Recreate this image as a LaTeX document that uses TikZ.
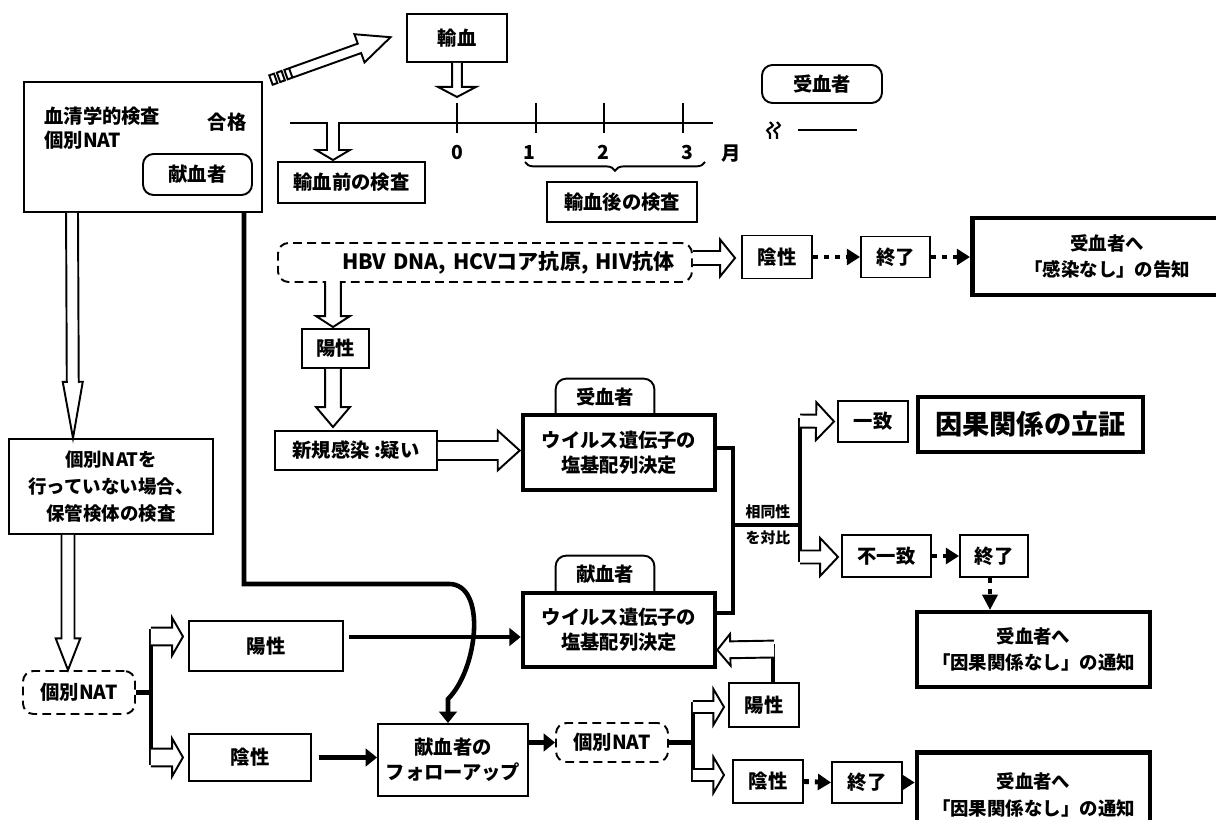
\documentclass[tikz,border=0pt]{standalone}
\usepackage{fontspec}
\setmainfont{Noto Sans CJK JP}
\usepackage{tikz}
\usetikzlibrary{
    positioning,
    arrows.meta,
    calc,
    decorations.pathreplacing,
    decorations.pathmorphing
}

% block arrow: tail, tip, half shaft, half head, head length
\newcommand{\hollowarrow}[5]{%
    \path (#1) coordinate (ha-t) (#2) coordinate (ha-p);
    \path ($(ha-p)!#5!(ha-t)$) coordinate (ha-b);
    \filldraw[hollow] ($(ha-t)!#3!90:(ha-p)$) -- ($(ha-b)!#3!90:(ha-p)$)
        -- ($(ha-b)!#4!90:(ha-p)$) -- (ha-p) -- ($(ha-b)!#4!-90:(ha-p)$)
        -- ($(ha-b)!#3!-90:(ha-p)$) -- ($(ha-t)!#3!-90:(ha-p)$);
}

\tikzset{
    box/.style={draw, line width=1.1pt, inner sep=0pt, align=center, fill=white,
        font=\fontsize{11}{14}\selectfont\bfseries},
    wh/.style 2 args={minimum width=#1*0.02cm, minimum height=#2*0.02cm},
    heavybox/.style={box, line width=2.6pt},
    dashbox/.style={box, dash pattern=on 5pt off 3pt, rounded corners=6pt},
    tagbox/.style={box, rounded corners=6pt},
    plain/.style={inner sep=0pt, align=center, font=\fontsize{11}{14}\selectfont\bfseries},
    hollow/.style={line width=1.1pt, fill=white, line join=miter},
    link/.style={line width=2.6pt, -{Triangle[length=6.5pt,width=10pt]}},
    bar/.style={line width=2.6pt},
    dots/.style={line width=2.8pt, dash pattern=on 2.8pt off 3.4pt},
    dotlink/.style={dots, -{Triangle[length=7.5pt,width=9pt]}},
    squiggle/.style={line width=1.2pt, decorate,
        decoration={snake, amplitude=1.6pt, segment length=6pt}}
}

\begin{document}
\begin{tikzpicture}[x=0.02cm, y=-0.02cm]
    \useasboundingbox (0,0) rectangle (1216,820);

    % Donor
    \node[box, wh={238}{130}] (donor) at (143,147) {};
    \node[plain, anchor=west, align=left] (donorTxt) at (44,128) {血清学的検査\\個別NAT};
    \node[plain] (pass) at (227,122) {合格};
    \node[tagbox, wh={109}{41}] (donorTag) at (197.5,174.5) {献血者};

    % Transfusion and time axis
    \node[box, wh={100}{48}] (transf) at (457,38) {輸血};
    \coordinate (tl) at (290,123);
    \coordinate (tr) at (713,123);
    \draw[line width=1.1pt] (tl) -- (tr);
    \draw[line width=1.1pt] (457,103) -- (457,133);
    \draw[line width=1.1pt] (536,103) -- (536,133);
    \draw[line width=1.1pt] (604,103) -- (604,133);
    \draw[line width=1.1pt] (683,103) -- (683,133);
    \node[plain] (m0) at (457,152) {0};
    \node[plain] (m1) at (529,152) {1};
    \node[plain] (m2) at (603,152) {2};
    \node[plain] (m3) at (687,152) {3};
    \node[plain] (month) at (731,154) {月};
    \draw[line width=1.1pt, decorate, decoration={brace, mirror, amplitude=5pt}]
        (525,162) -- (705,162);
    \node[box, wh={147}{41}] (pre) at (351.5,182.5) {輸血前の検査};
    \node[box, wh={150}{40}] (post) at (622,202) {輸血後の検査};
    \hollowarrow{transf.south}{$(transf.south)+(0,34)$}{2.8pt}{10.8pt}{5.7pt}
    \hollowarrow{$(pre.north)+(-18.5,-39)$}{$(pre.north)+(-18.5,-1)$}{3.4pt}{9.6pt}{5.7pt}

    % Donor -> transfusion
    \begin{scope}[shift={($(donor.north east)+(8,-1)$)}, rotate=19.7]
        \draw[hollow] (0,-5) -- (5,-5) -- (5,5) -- (0,5) -- cycle;
        \draw[hollow] (8,-5) -- (13,-5) -- (13,5) -- (8,5) -- cycle;
        \draw[hollow] (16,5) -- (94,5) -- (94,15) -- (127,0) -- (94,-15) -- (94,-5) -- (16,-5) -- cycle;
        \draw[line width=1.1pt] (21,-5) -- (21,5);
    \end{scope}

    % Recipient legend
    \node[tagbox, wh={120}{38}] (recip) at (822,84) {受血者};
    \draw[squiggle] (770,122) -- (770,139);
    \draw[squiggle] (777,122) -- (777,139);
    \draw[line width=1.1pt] (798,130) -- (857,130);

    % Recipient tests
    \node[dashbox, wh={414}{39}, text width=380*0.02cm, align=right, inner xsep=17*0.02cm,
        font=\fontsize{12}{14}\selectfont\bfseries]
        (hbv) at (485,262.5) {HBV DNA, HCVコア抗原, HIV抗体};
    \node[box, wh={70}{43}] (neg1) at (777,257) {陰性};
    \node[box, wh={69}{41}] (end1) at (895.5,257) {終了};
    \node[heavybox, wh={270}{77}, anchor=west, font=\fontsize{10.5}{15}\selectfont\bfseries]
        (notify1) at (970,256.5) {受血者へ\\「感染なし」の告知};
    \hollowarrow{$(hbv.east)+(0,-4.5)$}{$(hbv.east -| neg1.west)+(-6,-4.5)$}{4pt}{10.5pt}{8.5pt}
    \draw[dotlink] (neg1.east) -- (end1.west);
    \draw[dotlink] (end1.east) -- (end1.east -| notify1.west);

    \node[box, wh={67}{39}] (pos1) at (335.5,348.5) {陽性};
    \node[box, wh={162}{39}] (suspect) at (356,450.5) {新規感染 :疑い};
    \hollowarrow{$(pos1.north)+(-2.5,-47)$}{$(pos1.north)+(-2.5,-1)$}{4.5pt}{9.6pt}{6.2pt}
    \hollowarrow{$(pos1.south)+(-2.5,0)$}{$(suspect.north)+(-23,-3)$}{4.5pt}{9.6pt}{11.3pt}

    % Sequencing
    \node[plain, wh={98}{36}] (tagR) at (605,397) {受血者};
    \draw[line width=1.1pt, rounded corners=6pt] (tagR.south west) |- (tagR.north) -| (tagR.south east);
    \node[heavybox, wh={192}{75}] (virusR) at (619,452.5) {ウイルス遺伝子の\\塩基配列決定};
    \node[plain, wh={98}{36}] (tagD) at (605,574) {献血者};
    \draw[line width=1.1pt, rounded corners=6pt] (tagD.south west) |- (tagD.north) -| (tagD.south east);
    \node[heavybox, wh={192}{74}] (virusD) at (619,630) {ウイルス遺伝子の\\塩基配列決定};
    \hollowarrow{suspect.east}{$(suspect.east -| virusR.west)+(-1,0)$}{5.4pt}{11.3pt}{12.5pt}

    % Comparison
    \coordinate (cmp) at (733,525);
    \coordinate (fork) at (800,525);
    \draw[bar] ($(virusR.east)+(0,-4.5)$) -| (cmp) |- ($(virusD.east)+(0,-17)$);
    \draw[bar] (cmp) -- (fork);
    \draw[bar] ($(fork)+(0,-107)$) -- ($(fork)+(0,37)$);
    \node[plain, font=\fontsize{8.5}{10}\selectfont\bfseries] (simTop) at (768,512) {相同性};
    \node[plain, font=\fontsize{8.5}{10}\selectfont\bfseries] (simBot) at (768,538) {を対比};
    \node[box, wh={70}{41}] (agree) at (873,421.5) {一致};
    \node[heavybox, wh={225}{55}, font=\fontsize{15.5}{18}\selectfont\bfseries]
        (proof) at (1030.5,424.5) {因果関係の立証};
    \node[box, wh={89}{42}] (disagree) at (886.5,556) {不一致};
    \node[box, wh={68}{42}] (end2) at (994,556) {終了};
    \node[heavybox, wh={233}{75}, font=\fontsize{10.5}{15}\selectfont\bfseries]
        (notify2) at (1033.5,649.5) {受血者へ\\「因果関係なし」の通知};
    \hollowarrow{$(fork)+(0,-104)$}{$(agree.west)+(-3,0)$}{3.7pt}{10.8pt}{10.2pt}
    \hollowarrow{$(fork)+(0,32)$}{$(disagree.west)+(-3,1)$}{3.7pt}{10.8pt}{10.2pt}
    \draw[dotlink] (disagree.east) -- (end2.west);
    % down to the second notice
    \coordinate (end2foot) at ($(end2.south)+(-4,0)$);
    \coordinate (notify2top) at (end2foot |- notify2.north);
    \draw[dots] (end2foot) -- ($(notify2top)+(0,-14)$);
    \fill ($(notify2top)+(-8,-15)$) -- ($(notify2top)+(8,-15)$) -- (notify2top) -- cycle;

    % Stored sample
    \node[box, wh={204}{95}, font=\fontsize{10.5}{15.3}\selectfont\bfseries]
        (storage) at (111,486.5) {個別NATを\\行っていない場合、\\保管検体の検査};
    \node[dashbox, wh={112}{43}] (natL) at (79,692.5) {個別NAT};
    \hollowarrow{$(donor.south west)+(49,0)$}{$(storage.north)+(-38,0)$}{3.4pt}{5.7pt}{32pt}
    \hollowarrow{$(storage.south)+(-43,0)$}{$(natL.north)+(-11,0)$}{3.7pt}{7pt}{18pt}

    \node[box, wh={154}{50}] (posL) at (266,646) {陽性};
    \node[box, wh={122}{47}] (negL) at (250,757.5) {陰性};
    \node[box, wh={150}{72}] (follow) at (453,760) {献血者の\\フォローアップ};
    \draw[bar] (natL.east) -- ++(15,0);
    \draw[bar] ($(natL.east)+(15,-64)$) -- ($(natL.east)+(15,72)$);
    \hollowarrow{$(natL.east)+(15,-56)$}{$(natL.east)+(47,-56)$}{5.1pt}{10.8pt}{6.2pt}
    \hollowarrow{$(natL.east)+(15,65)$}{$(natL.east)+(47,65)$}{5.1pt}{10.8pt}{6.2pt}

    % Donor follow-up
    \draw[link] ($(donor.south east)+(-19,0)$) -- ++(0,371) -- ++(205,0)
        .. controls +(38,0) and +(30,-30) .. ($(follow.north)+(-5,-24)$) -- ($(follow.north)+(-5,0)$);
    \draw[link] ($(posL.east)+(5,-9)$) -- ($(virusD.west)+(0,7)$);
    \draw[link] (negL.east) ++(7,0) -- (follow.west |- negL.east);

    \node[dashbox, wh={112}{39}] (natR) at (612,742.5) {個別NAT};
    \draw[link] (follow.east |- natR.west) -- (natR.west);
    \draw[bar] (natR.east) -- ++(24,0);
    \draw[bar] ($(natR.east)+(24,-40.5)$) -- ($(natR.east)+(24,39.5)$);
    \node[box, wh={70}{44}] (posR) at (764,705) {陽性};
    \node[box, wh={70}{43}] (negR) at (768,781.5) {陰性};
    \node[box, wh={70}{41}] (end3) at (867,782.5) {終了};
    \node[heavybox, wh={233}{85}, anchor=north, font=\fontsize{10.5}{15}\selectfont\bfseries]
        (notify3) at (1033.5,750) {受血者へ\\「因果関係なし」の通知};
    \hollowarrow{$(natR.east)+(24,-35.5)$}{$(natR.east)+(55,-35.5)$}{3.4pt}{10.2pt}{6pt}
    \hollowarrow{$(natR.east)+(24,32.5)$}{$(natR.east)+(55,32.5)$}{3.4pt}{10.2pt}{6pt}
    \draw[bar] ($(posR.north)+(9,0)$) -- ++(0,-38);
    \hollowarrow{$(posR.north)+(10,-33)$}{$(virusD.east)+(0,20)$}{4.8pt}{9pt}{7.4pt}
    \draw[dotlink] (negR.east) -- (end3.west);
    \draw[dotlink] (end3.east) -- (end3.east -| notify3.west);
\end{tikzpicture}
\end{document}
